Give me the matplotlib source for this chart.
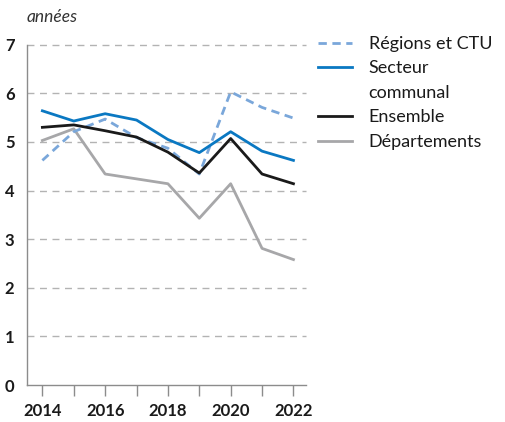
import matplotlib
matplotlib.use("Agg")
import matplotlib.pyplot as plt
from matplotlib.lines import Line2D

plt.rcParams['font.family'] = ['Lato', 'DejaVu Sans']

years = [2014, 2015, 2016, 2017, 2018, 2019, 2020, 2021, 2022]
regions = [4.62, 5.21, 5.47, 5.09, 4.87, 4.34, 6.03, 5.71, 5.49]
communal = [5.64, 5.43, 5.58, 5.45, 5.05, 4.78, 5.21, 4.81, 4.62]
ensemble = [5.30, 5.35, 5.23, 5.10, 4.79, 4.36, 5.07, 4.34, 4.14]
departements = [5.03, 5.27, 4.34, 4.24, 4.14, 3.43, 4.14, 2.81, 2.58]
labels = ['Régions et CTU', 'Secteur\ncommunal', 'Ensemble', 'Départements']
yticks = [0, 1, 2, 3, 4, 5, 6, 7]
xlabels = [2014, 2016, 2018, 2020, 2022]

fig = plt.figure(figsize=(5.06, 4.22), dpi=100)
ax = fig.add_axes([27 / 506, 37 / 422, 279 / 506, 340.3 / 422])

# grille
for y in yticks[1:]:
    ax.axhline(y, color='#b3b3b3', lw=1.0, ls=(0, (5, 4)), zorder=0, clip_on=False)

lw = 2.0
l1, = ax.plot(years, regions, color='#7aa7da', lw=lw, ls=(0, (3, 2)), zorder=3)
l2, = ax.plot(years, communal, color='#0a78c2', lw=lw, zorder=4)
l3, = ax.plot(years, ensemble, color='#1a1a1a', lw=lw, zorder=5)
l4, = ax.plot(years, departements, color='#a7a7a9', lw=lw, zorder=2)

ax.set_xlim(2013.51, 2022.4)
ax.set_ylim(0, 7)
for s in ['top', 'right']:
    ax.spines[s].set_visible(False)
for s in ['left', 'bottom']:
    ax.spines[s].set_color('#8c8c8c')
    ax.spines[s].set_linewidth(1.0)

ax.set_yticks(yticks)
ax.set_yticklabels([str(v) for v in yticks], fontweight='bold', fontsize=12, color='#1a1a1a')
ax.tick_params(axis='y', length=0, pad=9)
ax.set_xticks(years)
ax.set_xticklabels([str(y) if y in xlabels else '' for y in years],
                   fontweight='bold', fontsize=12, color='#1a1a1a')
ax.tick_params(axis='x', direction='out', length=8, color='#8c8c8c', width=1.0, pad=5)

fig.text(27 / 506, 1 - 17 / 422, 'années', fontstyle='italic', fontsize=12.5,
         color='#333333', ha='left', va='center')

# légende : une ligne par rangée, le handle sur la première ligne du libellé
handles, texts = [], []
for h, lab in zip([l1, l2, l3, l4], labels):
    parts = lab.split('\n')
    handles.append(h)
    texts.append(parts[0])
    for p in parts[1:]:
        handles.append(Line2D([], [], color='none'))
        texts.append(p)

leg = fig.legend(handles, texts, loc='upper left',
                 bbox_to_anchor=(318 / 506, 1 - 36 / 422), frameon=False,
                 fontsize=13, handlelength=1.9, handletextpad=0.9,
                 labelspacing=0.47, borderaxespad=0, borderpad=0)
for t in leg.get_texts():
    t.set_color('#1a1a1a')

fig.savefig('out.png', dpi=100)
